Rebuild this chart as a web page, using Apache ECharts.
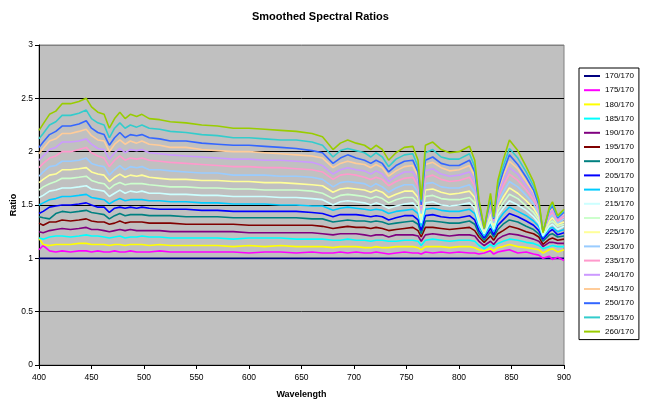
<!DOCTYPE html>
<html>
<head>
<meta charset="utf-8">
<script src="https://cdn.jsdelivr.net/npm/echarts@6/dist/echarts.min.js"></script>
<style>
  html, body { margin: 0; padding: 0; background: #ffffff; }
  #chart { width: 645px; height: 400px; }
</style>
</head>
<body>
<div id="chart"></div>
<script>
// Sample wavelengths (nm) shared by every ratio curve
const wavelengths = [400,404,410,416,422,430,438,445,450,456, 462,467,472,477,482,487,493,498,505,515, 525,540,555,570,585,600,615,630,645,660, 670,680,687,694,702,710,716,721,727,733, 740,748,756,761,764,768,775,783,791,800, 810,815,819,824,830,833,837,842,848,856, 864,871,876,880,886,889,894,900];

// Smoothed ratio values, one list per band pair
const r170 = [1,1,1,1,1,1,1,1,1,1, 1,1,1,1,1,1,1,1,1,1, 1,1,1,1,1,1,1,1,1,1, 1,1,1,1,1,1,1,1,1,1, 1,1,1,1,1,1,1,1,1,1, 1,1,1,1,1,1,1,1,1,1, 1,1,1,1,1,1,1,1];
const r175 = [1.08,1.12,1.07,1.06,1.07,1.06,1.07,1.07,1.06,1.07, 1.06,1.06,1.07,1.06,1.06,1.07,1.06,1.06,1.06,1.07, 1.06,1.06,1.06,1.06,1.06,1.05,1.06,1.06,1.05,1.06, 1.05,1.05,1.06,1.05,1.06,1.05,1.05,1.06,1.05,1.04, 1.05,1.06,1.05,1.05,1.04,1.06,1.05,1.06,1.05,1.06, 1.05,1.05,1.04,1.05,1.07,1.04,1.06,1.07,1.08,1.05, 1.06,1.04,1.03,1.00,1.02,0.99,1.01,0.98];
const r180 = [1.19,1.13,1.12,1.13,1.13,1.13,1.14,1.14,1.13,1.13, 1.13,1.12,1.13,1.13,1.12,1.13,1.13,1.13,1.12,1.13, 1.12,1.12,1.12,1.12,1.11,1.12,1.11,1.12,1.11,1.11, 1.11,1.10,1.11,1.11,1.11,1.10,1.10,1.11,1.10,1.10, 1.11,1.11,1.11,1.10,1.08,1.11,1.11,1.11,1.10,1.11, 1.11,1.10,1.08,1.07,1.09,1.07,1.10,1.11,1.13,1.11, 1.10,1.09,1.08,1.05,1.08,1.09,1.06,1.08];
const r185 = [1.19,1.18,1.20,1.21,1.21,1.20,1.21,1.22,1.21,1.21, 1.20,1.19,1.20,1.21,1.19,1.20,1.20,1.21,1.20,1.20, 1.19,1.19,1.19,1.19,1.18,1.19,1.19,1.19,1.18,1.18, 1.18,1.17,1.17,1.18,1.17,1.17,1.16,1.17,1.17,1.16, 1.16,1.17,1.17,1.16,1.12,1.17,1.18,1.17,1.16,1.17, 1.17,1.16,1.12,1.09,1.13,1.11,1.14,1.16,1.18,1.17, 1.15,1.14,1.12,1.09,1.11,1.12,1.11,1.11];
const r190 = [1.25,1.24,1.26,1.27,1.28,1.27,1.28,1.29,1.27,1.27, 1.26,1.25,1.26,1.27,1.26,1.27,1.26,1.26,1.26,1.26, 1.25,1.25,1.25,1.25,1.25,1.24,1.24,1.24,1.24,1.24, 1.23,1.22,1.23,1.23,1.23,1.22,1.21,1.22,1.22,1.20, 1.22,1.22,1.22,1.21,1.16,1.22,1.23,1.22,1.21,1.22, 1.22,1.21,1.16,1.12,1.16,1.13,1.18,1.21,1.23,1.22, 1.20,1.18,1.16,1.11,1.15,1.15,1.14,1.14];
const r195 = [1.33,1.31,1.34,1.34,1.36,1.35,1.36,1.37,1.35,1.34, 1.34,1.32,1.33,1.35,1.33,1.34,1.34,1.34,1.33,1.33, 1.33,1.32,1.32,1.32,1.32,1.31,1.31,1.31,1.31,1.31, 1.30,1.28,1.29,1.30,1.29,1.29,1.28,1.29,1.28,1.26, 1.27,1.28,1.29,1.26,1.20,1.29,1.29,1.28,1.27,1.28, 1.29,1.26,1.20,1.15,1.21,1.17,1.23,1.26,1.30,1.28, 1.25,1.23,1.20,1.13,1.18,1.19,1.17,1.18];
const r200 = [1.39,1.38,1.37,1.42,1.44,1.43,1.44,1.45,1.43,1.42, 1.41,1.37,1.40,1.42,1.40,1.41,1.41,1.41,1.40,1.40, 1.40,1.39,1.39,1.39,1.38,1.38,1.38,1.38,1.38,1.37, 1.37,1.34,1.35,1.36,1.35,1.35,1.34,1.35,1.34,1.32, 1.33,1.34,1.35,1.32,1.23,1.35,1.35,1.34,1.33,1.33, 1.35,1.32,1.23,1.17,1.25,1.20,1.27,1.32,1.36,1.34, 1.30,1.27,1.23,1.16,1.22,1.23,1.20,1.21];
const r205 = [1.42,1.44,1.48,1.49,1.50,1.50,1.51,1.52,1.50,1.48, 1.48,1.43,1.47,1.48,1.47,1.48,1.47,1.48,1.47,1.46, 1.46,1.46,1.45,1.45,1.44,1.44,1.44,1.44,1.44,1.43, 1.42,1.39,1.41,1.41,1.41,1.40,1.39,1.40,1.39,1.36, 1.38,1.40,1.40,1.36,1.26,1.40,1.41,1.39,1.38,1.38, 1.40,1.36,1.26,1.19,1.28,1.22,1.31,1.36,1.42,1.39, 1.35,1.31,1.26,1.18,1.25,1.27,1.22,1.24];
const r210 = [1.50,1.52,1.55,1.56,1.58,1.58,1.59,1.60,1.57,1.56, 1.55,1.51,1.54,1.56,1.54,1.55,1.55,1.55,1.54,1.54, 1.53,1.53,1.52,1.52,1.51,1.51,1.51,1.50,1.50,1.49, 1.49,1.45,1.47,1.48,1.47,1.46,1.45,1.46,1.45,1.42, 1.44,1.45,1.46,1.42,1.30,1.46,1.47,1.45,1.44,1.44, 1.46,1.42,1.30,1.21,1.32,1.25,1.35,1.42,1.48,1.44, 1.40,1.35,1.30,1.20,1.28,1.29,1.25,1.27];
const r215 = [1.57,1.59,1.63,1.64,1.66,1.66,1.67,1.68,1.65,1.64, 1.63,1.58,1.61,1.64,1.61,1.63,1.62,1.63,1.61,1.61, 1.60,1.60,1.59,1.59,1.58,1.58,1.58,1.57,1.57,1.56, 1.55,1.50,1.53,1.54,1.53,1.52,1.50,1.52,1.50,1.47, 1.49,1.51,1.52,1.47,1.33,1.52,1.53,1.50,1.49,1.50, 1.52,1.47,1.33,1.23,1.35,1.27,1.40,1.47,1.54,1.50, 1.45,1.39,1.33,1.21,1.30,1.32,1.27,1.30];
const r220 = [1.64,1.67,1.70,1.72,1.75,1.75,1.76,1.77,1.73,1.71, 1.70,1.65,1.69,1.71,1.69,1.70,1.70,1.70,1.69,1.68, 1.67,1.67,1.66,1.66,1.65,1.65,1.64,1.64,1.64,1.63, 1.61,1.56,1.59,1.60,1.59,1.58,1.56,1.58,1.56,1.52, 1.55,1.57,1.57,1.52,1.36,1.58,1.59,1.56,1.55,1.55, 1.57,1.52,1.36,1.24,1.39,1.29,1.44,1.52,1.60,1.56, 1.49,1.43,1.36,1.23,1.33,1.35,1.30,1.32];
const r225 = [1.71,1.74,1.78,1.79,1.83,1.83,1.84,1.85,1.81,1.79, 1.78,1.72,1.76,1.79,1.76,1.78,1.77,1.78,1.76,1.75, 1.74,1.74,1.73,1.73,1.72,1.72,1.71,1.71,1.70,1.69, 1.68,1.62,1.65,1.66,1.65,1.64,1.62,1.64,1.62,1.57, 1.60,1.63,1.63,1.57,1.39,1.64,1.65,1.62,1.60,1.61, 1.63,1.57,1.39,1.26,1.42,1.31,1.48,1.57,1.66,1.61, 1.54,1.47,1.39,1.24,1.35,1.38,1.32,1.34];
const r230 = [1.77,1.81,1.86,1.87,1.91,1.91,1.92,1.94,1.89,1.87, 1.86,1.78,1.83,1.87,1.83,1.86,1.85,1.86,1.83,1.83, 1.82,1.81,1.80,1.80,1.78,1.78,1.78,1.77,1.77,1.76, 1.74,1.67,1.71,1.72,1.71,1.70,1.67,1.70,1.67,1.62, 1.66,1.69,1.69,1.62,1.42,1.70,1.71,1.67,1.66,1.66, 1.69,1.62,1.42,1.27,1.45,1.33,1.52,1.62,1.72,1.67, 1.59,1.51,1.42,1.25,1.38,1.41,1.33,1.37];
const r235 = [1.85,1.89,1.94,1.96,2.00,2.00,2.02,2.04,1.99,1.96, 1.94,1.86,1.92,1.96,1.92,1.94,1.93,1.94,1.92,1.91, 1.90,1.89,1.88,1.87,1.86,1.86,1.85,1.85,1.84,1.83, 1.81,1.74,1.78,1.79,1.78,1.76,1.74,1.76,1.74,1.68, 1.72,1.75,1.76,1.68,1.45,1.76,1.78,1.74,1.72,1.73, 1.76,1.68,1.45,1.28,1.48,1.35,1.56,1.68,1.79,1.73, 1.64,1.55,1.45,1.25,1.40,1.43,1.35,1.39];
const r240 = [1.92,1.96,2.02,2.04,2.09,2.09,2.10,2.12,2.07,2.03, 2.02,1.93,1.99,2.03,1.99,2.02,2.01,2.02,1.99,1.98, 1.97,1.96,1.95,1.94,1.93,1.93,1.92,1.92,1.91,1.90, 1.87,1.79,1.83,1.85,1.83,1.82,1.79,1.82,1.79,1.72, 1.77,1.81,1.81,1.72,1.47,1.82,1.84,1.79,1.77,1.78, 1.81,1.72,1.47,1.28,1.51,1.36,1.59,1.72,1.85,1.79, 1.68,1.59,1.47,1.25,1.42,1.45,1.37,1.41];
const r245 = [1.98,2.03,2.10,2.12,2.17,2.17,2.19,2.21,2.15,2.11, 2.10,2.00,2.07,2.11,2.07,2.10,2.08,2.10,2.07,2.06, 2.04,2.04,2.02,2.01,2.00,2.00,1.99,1.98,1.97,1.96, 1.94,1.85,1.89,1.91,1.89,1.88,1.85,1.88,1.85,1.77, 1.82,1.86,1.87,1.77,1.49,1.88,1.90,1.85,1.82,1.83, 1.87,1.77,1.49,1.28,1.53,1.37,1.63,1.77,1.91,1.84, 1.72,1.62,1.49,1.25,1.44,1.47,1.38,1.42];
const r250 = [2.04,2.09,2.16,2.19,2.24,2.24,2.26,2.29,2.22,2.18, 2.16,2.06,2.13,2.18,2.13,2.16,2.15,2.16,2.13,2.12, 2.10,2.10,2.08,2.07,2.06,2.06,2.05,2.04,2.03,2.01, 1.99,1.89,1.94,1.97,1.94,1.92,1.89,1.92,1.89,1.81, 1.87,1.91,1.92,1.81,1.50,1.92,1.95,1.89,1.87,1.87, 1.92,1.81,1.50,1.28,1.55,1.37,1.65,1.81,1.97,1.88, 1.76,1.64,1.50,1.25,1.45,1.49,1.38,1.43];
const r255 = [2.12,2.17,2.25,2.28,2.34,2.34,2.36,2.39,2.31,2.27, 2.25,2.13,2.22,2.27,2.22,2.25,2.23,2.25,2.22,2.21, 2.19,2.18,2.16,2.15,2.13,2.13,2.12,2.11,2.11,2.09, 2.06,1.95,2.01,2.03,2.01,1.99,1.95,1.99,1.95,1.86, 1.93,1.97,1.98,1.86,1.53,1.99,2.02,1.95,1.93,1.93, 1.98,1.86,1.53,1.28,1.58,1.38,1.69,1.86,2.03,1.94, 1.81,1.68,1.53,1.25,1.46,1.51,1.39,1.45];
const r260 = [2.20,2.26,2.35,2.38,2.45,2.45,2.47,2.50,2.42,2.37, 2.35,2.22,2.31,2.37,2.31,2.35,2.33,2.35,2.31,2.30, 2.28,2.27,2.25,2.24,2.22,2.22,2.21,2.20,2.19,2.17, 2.14,2.02,2.08,2.11,2.08,2.06,2.02,2.06,2.02,1.92, 1.99,2.04,2.05,1.92,1.55,2.06,2.09,2.02,1.99,2.00, 2.05,1.92,1.55,1.28,1.61,1.39,1.73,1.92,2.11,2.01, 1.86,1.72,1.55,1.24,1.48,1.53,1.40,1.46];

const seriesNames = ['170/170','175/170','180/170','185/170','190/170','195/170','200/170','205/170','210/170','215/170','220/170','225/170','230/170','235/170','240/170','245/170','250/170','255/170','260/170'];
const seriesValues = [r170, r175, r180, r185, r190, r195, r200, r205, r210, r215, r220, r225, r230, r235, r240, r245, r250, r255, r260];
const seriesColors = ['#000080','#FF00FF','#FFFF00','#00FFFF','#800080','#800000','#008080','#0000FF','#00CCFF','#CCFFFF','#CCFFCC','#FFFF99','#99CCFF','#FF99CC','#CC99FF','#FFCC99','#3366FF','#33CCCC','#99CC00'];

const FONT = '"Liberation Sans", Arial, sans-serif';

const chart = echarts.init(document.getElementById('chart'), null, { renderer: 'canvas' });

const series = seriesNames.map((name, k) => ({
  name: name,
  type: 'line',
  symbol: 'none',
  silent: true,
  animation: false,
  color: seriesColors[k],
  lineStyle: { color: seriesColors[k], width: 1.6 },
  data: wavelengths.map((w, i) => [w, seriesValues[k][i]])
}));

chart.setOption({
  backgroundColor: '#ffffff',
  animation: false,
  title: {
    text: 'Smoothed Spectral Ratios',
    left: 247,
    top: 6,
    textStyle: { fontFamily: FONT, fontSize: 11, fontWeight: 'bold', color: '#000' }
  },
  grid: {
    left: 39, right: 81, top: 45, bottom: 35,
    containLabel: false,
    outerBoundsMode: 'none',
    show: true,
    backgroundColor: '#C0C0C0',
    borderColor: '#808080',
    borderWidth: 1
  },
  legend: {
    orient: 'vertical',
    left: 579,
    top: 68,
    padding: [3, 5, 3, 5],
    icon: 'rect',
    itemWidth: 16,
    itemHeight: 2,
    itemGap: 4.2,
    backgroundColor: '#ffffff',
    borderColor: '#000000',
    borderWidth: 1,
    borderRadius: 0,
    textStyle: { fontFamily: FONT, fontSize: 8, lineHeight: 10, color: '#000' },
    data: seriesNames
  },
  xAxis: {
    type: 'value',
    min: 400, max: 900, interval: 50,
    name: 'Wavelength',
    nameLocation: 'middle',
    nameGap: 25,
    nameMoveOverlap: false,
    nameTextStyle: { fontFamily: FONT, fontSize: 9, fontWeight: 'bold', color: '#000' },
    axisLine: { show: true, onZero: false, lineStyle: { color: '#000', width: 1 } },
    axisTick: { show: true, length: 4, inside: false, lineStyle: { color: '#000' } },
    axisLabel: { fontFamily: FONT, fontSize: 8.5, color: '#000', margin: 8 },
    splitLine: { show: false }
  },
  yAxis: {
    type: 'value',
    min: 0, max: 3, interval: 0.5,
    name: 'Ratio',
    nameLocation: 'middle',
    nameGap: 21,
    nameMoveOverlap: false,
    nameRotate: 90,
    nameTextStyle: { fontFamily: FONT, fontSize: 9, fontWeight: 'bold', color: '#000' },
    axisLine: { show: true, lineStyle: { color: '#000', width: 1 } },
    axisTick: { show: true, length: 4, inside: false, lineStyle: { color: '#000' } },
    axisLabel: { fontFamily: FONT, fontSize: 8.5, color: '#000', margin: 6 },
    splitLine: { show: true, lineStyle: { color: ['#000','#333','#000','#000','#000','#000','#808080'], width: 1 } }
  },
  series: series
});
</script>
</body>
</html>
